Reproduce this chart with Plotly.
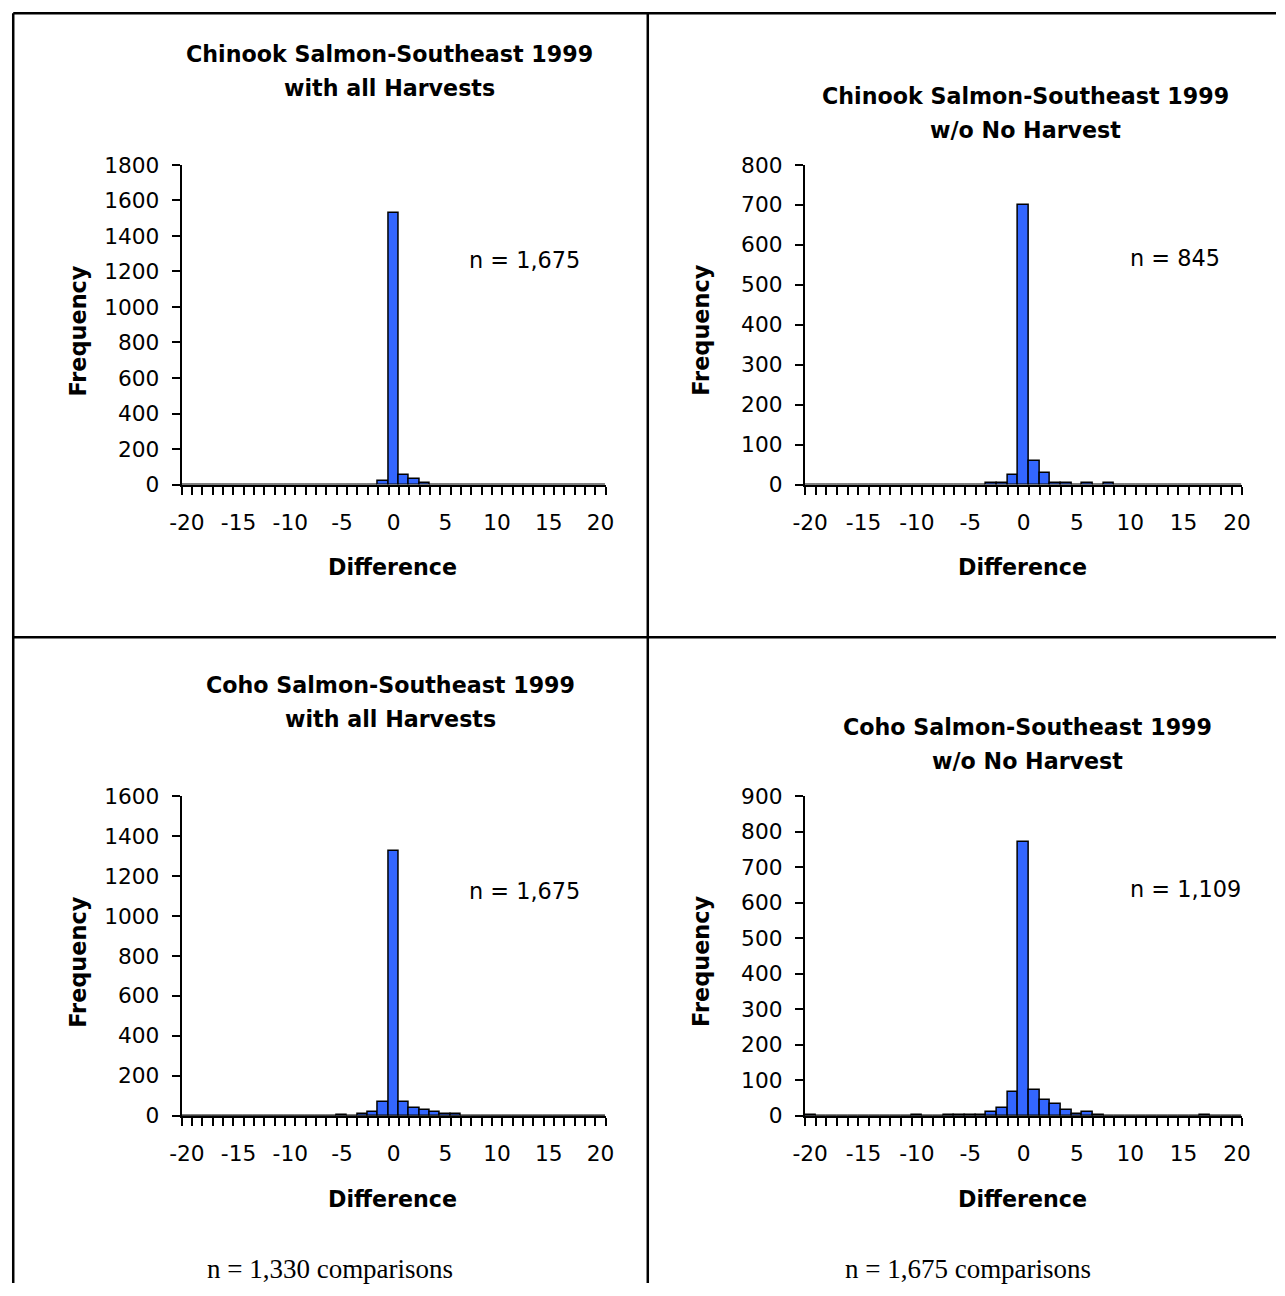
import plotly.graph_objects as go

W, H = 1285, 1296

# The layout below is drafted in "sheet" pixels; the sheet maps onto the
# canvas as canvas = (sheet - offset) / scale.
SCALE_X, SCALE_Y = 0.985, 0.982
OFF_X, OFF_Y = 10.05, 10.85

# Difference categories (-20 .. 20)
diff = list(range(-20, 21))


def series(pairs):
    d = dict(pairs)
    return [d.get(k, 0) for k in diff]


# Frequencies per difference value
chinook_all = series({-1: 22, 0: 1530, 1: 55, 2: 32, 3: 11})
chinook_wo = series({-3: 4, -2: 4, -1: 25, 0: 700, 1: 59, 2: 30, 3: 4, 4: 4, 6: 4, 8: 3})
coho_all = series({-5: 5, -3: 7, -2: 20, -1: 70, 0: 1325, 1: 68, 2: 38, 3: 28, 4: 19, 5: 6, 6: 6})
coho_wo = series({-20: 3, -10: 3, -7: 3, -6: 3, -5: 3, -4: 3, -3: 10, -2: 21, -1: 66, 0: 770,
                  1: 71, 2: 44, 3: 32, 4: 16, 5: 4, 6: 10, 7: 3, 17: 3})

titles = [
    ("Chinook Salmon-Southeast 1999", "with all Harvests"),
    ("Chinook Salmon-Southeast 1999", "w/o No Harvest"),
    ("Coho Salmon-Southeast 1999", "with all Harvests"),
    ("Coho Salmon-Southeast 1999", "w/o No Harvest"),
]
n_labels = ["n = 1,675", "n = 845", "n = 1,675", "n = 1,109"]
y_max = [1800, 800, 1600, 900]
y_step = [200, 100, 200, 100]
x_ticks = [-20, -15, -10, -5, 0, 5, 10, 15, 20]
x_ticktext = ["-20", "-15", "-10", "-5", "0", "5", "10", "15", "20"]
footnotes = ["n = 1,330 comparisons", "n = 1,675 comparisons"]

SANS = "DejaVu Sans"
BAR = "#3366FF"

# panel frames in sheet pixels: (x_left, x_right, y_top, y_bottom)
boxes = [
    (180, 604.5, 164, 484),
    (804, 1242, 164, 484),
    (180, 604.5, 796, 1116),
    (804, 1242, 796, 1116),
]
title_pos = [(388, 53), (1025, 95), (389, 685), (1027, 727)]
n_pos = [(466, 259), (1128, 257), (466, 891), (1128, 889)]
foot_pos = [(328, 1270), (967, 1270)]


def px(x):
    return (x - OFF_X) / SCALE_X / W


def py(y):
    return 1 - (y - OFF_Y) / SCALE_Y / H


def fs(size):
    return round(size / SCALE_Y, 2)


fig = go.Figure()
data = [chinook_all, chinook_wo, coho_all, coho_wo]
annotations = []
for i, vals in enumerate(data):
    k = "" if i == 0 else str(i + 1)
    xl, xr, yt, yb = boxes[i]
    fig.add_trace(go.Bar(
        x=diff, y=vals, xaxis="x" + k, yaxis="y" + k,
        marker=dict(color=BAR, line=dict(color="black", width=1.5)),
        showlegend=False, hoverinfo="x+y",
    ))
    fig.layout["xaxis" + k] = dict(
        domain=[px(xl), px(xr)], anchor="y" + k, range=[-20.5, 20.5],
        tickvals=x_ticks, ticktext=x_ticktext, ticks="", showgrid=False, zeroline=False,
        showline=True, linecolor="black", linewidth=2,
        tickfont=dict(family=SANS, size=fs(21.3), color="black"),
        ticklabelstandoff=17,
        minor=dict(ticks="outside", tick0=-20.5, dtick=1, ticklen=8,
                   tickwidth=2, tickcolor="black", showgrid=False),
        fixedrange=True,
    )
    fig.layout["yaxis" + k] = dict(
        domain=[py(yb), py(yt)], anchor="x" + k, range=[0, y_max[i]],
        dtick=y_step[i], tick0=0, ticks="outside", ticklen=8, tickwidth=2,
        tickcolor="black", showgrid=False, zeroline=False,
        showline=True, linecolor="black", linewidth=2,
        tickfont=dict(family=SANS, size=fs(21.3), color="black"),
        ticklabelstandoff=8, fixedrange=True,
    )
    mid = (xl + xr) / 2
    # chart titles
    tx, ty = title_pos[i]
    for j, line in enumerate(titles[i]):
        annotations.append(dict(
            x=px(tx), y=py(ty + 34 * j), xref="paper", yref="paper",
            text="<b>%s</b>" % line, showarrow=False,
            xanchor="center", yanchor="middle",
            font=dict(family=SANS, size=fs(21.8), color="black"),
        ))
    # axis titles
    annotations.append(dict(
        x=px(mid - 1), y=py(yb + 83), xref="paper", yref="paper",
        text="<b>Difference</b>", showarrow=False, xanchor="center", yanchor="middle",
        font=dict(family=SANS, size=fs(21.8), color="black"),
    ))
    annotations.append(dict(
        x=px(xl - 104), y=py((yt + yb) / 2 + 6), xref="paper", yref="paper",
        text="<b>Frequency</b>", showarrow=False, textangle=-90,
        xanchor="center", yanchor="middle",
        font=dict(family=SANS, size=fs(22), color="black"),
    ))
    # sample size label
    nx, ny = n_pos[i]
    annotations.append(dict(
        x=px(nx), y=py(ny), xref="paper", yref="paper", text=n_labels[i],
        showarrow=False, xanchor="left", yanchor="middle",
        font=dict(family=SANS, size=fs(22), color="black"),
    ))

for (fx, fy), txt in zip(foot_pos, footnotes):
    annotations.append(dict(
        x=px(fx), y=py(fy), xref="paper", yref="paper", text=txt,
        showarrow=False, xanchor="center", yanchor="middle",
        font=dict(family="Liberation Serif", size=fs(26.5), color="black"),
    ))

# table cell borders
line = dict(color="black", width=2.5)
top = 1 - 1.25 / H
left = 1.25 / W
shapes = [
    dict(type="line", xref="paper", yref="paper", x0=left, x1=1, y0=top, y1=top, line=line),
    dict(type="line", xref="paper", yref="paper", x0=left, x1=left, y0=top, y1=0, line=line),
    dict(type="line", xref="paper", yref="paper", x0=px(646.7), x1=px(646.7), y0=top, y1=0, line=line),
    dict(type="line", xref="paper", yref="paper", x0=left, x1=1, y0=py(637), y1=py(637), line=line),
]

fig.update_layout(
    width=W, height=H, margin=dict(l=0, r=0, t=0, b=0),
    paper_bgcolor="white", plot_bgcolor="white",
    bargap=0, annotations=annotations, shapes=shapes,
)

fig.write_html("out.html", config={"displayModeBar": False})
